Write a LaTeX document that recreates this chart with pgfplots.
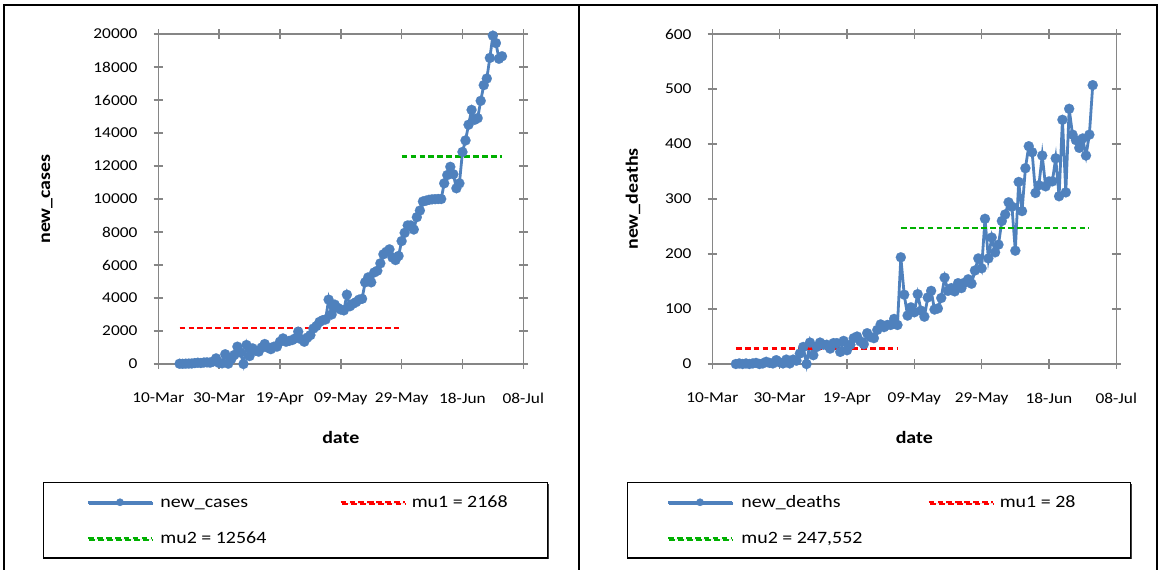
\documentclass[border=0pt]{standalone}
\usepackage{fontspec}
\setmainfont{Carlito}[FakeStretch=1.15]
\usepackage{pgfplots}
\pgfplotsset{compat=1.18}
\usetikzlibrary{shadows}
\definecolor{cblue}{HTML}{4F81BD}
\definecolor{cgray}{HTML}{868686}
\definecolor{cgreen}{RGB}{0,176,0}

\pgfplotstableread{
d v
7 15
8 10
9 20
10 25
11 30
12 55
13 75
14 60
15 90
16 100
17 80
18 150
19 340
20 60
21 40
22 590
23 20
24 300
25 550
26 1050
27 700
28 0
29 1150
30 480
31 950
32 800
33 750
34 1000
35 1210
36 990
37 900
38 1050
39 1050
40 1350
41 1550
42 1350
43 1400
44 1450
45 1550
46 1960
47 1500
48 1350
49 1600
50 1750
51 2150
52 2300
53 2550
54 2650
55 2700
56 3900
57 3000
58 3600
59 3400
60 3300
61 3250
62 4200
63 3500
64 3650
65 3750
66 3900
67 3950
68 4950
69 5250
70 4950
71 5550
72 5650
73 6100
74 6650
75 6800
76 6950
77 6450
78 6300
79 6550
80 7450
81 7950
82 8400
83 8400
84 8150
85 8900
86 9300
87 9850
88 9900
89 9950
90 9980
91 9990
92 10000
93 10000
94 10950
95 11450
96 11950
97 11500
98 10650
99 10950
100 12850
101 13550
102 14500
103 15400
104 14800
105 14900
106 15950
107 16900
108 17300
109 18550
110 19900
111 19450
112 18500
113 18650
}\cases

\pgfplotstableread{
d v
7 0
8 1
9 0
10 1
11 0
12 1
13 2
14 0
15 1
16 4
17 2
18 1
19 7
20 3
21 1
22 8
23 1
24 8
25 6
26 19
27 31
28 0
29 39
30 16
31 31
32 39
33 35
34 35
35 28
36 38
37 38
38 22
39 42
40 25
41 35
42 47
43 50
44 41
45 36
46 56
47 49
48 47
49 62
50 72
51 67
52 71
53 71
54 82
55 71
56 194
57 126
58 88
59 103
60 94
61 127
62 97
63 86
64 121
65 133
66 99
67 101
68 120
69 157
70 133
71 138
72 132
73 147
74 138
75 148
76 154
77 146
78 170
79 192
80 174
81 264
82 192
83 230
84 203
85 217
86 260
87 272
88 294
89 286
90 206
91 331
92 278
93 356
94 396
95 385
96 311
97 325
98 379
99 323
100 332
101 332
102 374
103 305
104 444
105 312
106 464
107 417
108 407
109 393
110 410
111 379
112 417
113 507
}\deaths

\pgfplotsset{
  mystyle/.style={
    scale only axis, height=247.5pt,
    xmin=0, xmax=120, xtick={0,20,...,120},
    xticklabels={10-Mar,30-Mar,19-Apr,09-May,29-May,18-Jun,08-Jul},
    scaled y ticks=false,
    axis line style={cgray, line width=1.1pt},
    tick style={cgray, line width=1.1pt},
    major tick length=7pt, tick align=center,
    ticklabel style={font=\fontsize{11.3}{13}\selectfont, black},
    /pgf/number format/assume math mode=true,
    /pgf/number format/1000 sep={},
    yticklabel style={anchor=east, inner sep=0pt, xshift=-12pt},
    xticklabel style={anchor=north, inner sep=0pt, yshift=-18pt},
    label style={font=\fontsize{13}{15}\selectfont\bfseries},
    xlabel style={at={(axis description cs:0.5,-0.2242)}, anchor=center},
    clip=false,
    legend columns=2,
    legend image code/.code={\draw[mark repeat=2, mark phase=2, ##1, mark size=2.8pt] plot coordinates {(0pt,0pt) (24pt,0pt) (48pt,0pt)};},
    legend style={anchor=north west, draw=black, line width=0.9pt, fill=white,
      drop shadow={shadow xshift=1.1pt, shadow yshift=-1.1pt, fill=black!75, opacity=1},
      inner ysep=9.5pt, row sep=16.5pt, column sep=0pt,
      font=\fontsize{13}{15}\selectfont,
      nodes={inner sep=0pt, text height=9.25pt, text depth=1.25pt},
      cells={anchor=west}},
  },
  series/.style={cblue, line width=2.1pt, mark=*, mark size=3.8pt,
    mark options={fill=cblue, draw=cblue, line width=0.1pt, solid}},
  mured/.style={red, line width=1.8pt, dash pattern=on 4.3pt off 2.4pt},
  mugreen/.style={cgreen, line width=1.8pt, dash pattern=on 4.3pt off 2.4pt},
}

\begin{document}
\begin{tikzpicture}
\begin{axis}[mystyle,
  at={(118.725pt,154.5pt)}, anchor=south west,
  width=273.75pt,
  ymin=0, ymax=20000, ytick={0,2000,...,20000},
  xlabel={date}, ylabel={new\_cases},
  ylabel style={at={(axis description cs:-0.3049,0.5)}, anchor=center},
  legend style={at={(axis description cs:-0.3159,-0.3576)}, inner xsep=32.25pt},
]
\addplot[series] table[x=d,y=v] {\cases};
\addlegendentry{\makebox[139.5pt][l]{\hspace{5.25pt}new\_cases}}
\addplot[mured] coordinates {(7,2168) (79,2168)};
\addlegendentry{\makebox[74pt][l]{\hspace{4.5pt}mu1 = 2168}}
\addplot[mugreen] coordinates {(80,12564) (113,12564)};
\addlegendentry{\makebox[139.5pt][l]{\hspace{5.25pt}mu2 = 12564}}
\end{axis}

\begin{axis}[mystyle,
  at={(534.225pt,154.5pt)}, anchor=south west,
  width=303pt,
  ymin=0, ymax=600, ytick={0,100,...,600},
  xlabel={date}, ylabel={new\_deaths},
  ylabel style={at={(axis description cs:-0.1963,0.5)}, anchor=center},
  legend style={at={(axis description cs:-0.2111,-0.3576)}, inner xsep=29.25pt},
]
\addplot[series] table[x=d,y=v] {\deaths};
\addlegendentry{\makebox[145.5pt][l]{\hspace{6pt}new\_deaths}}
\addplot[mured] coordinates {(7,28) (55,28)};
\addlegendentry{\makebox[73.5pt][l]{\hspace{4.5pt}mu1 = 28}}
\addplot[mugreen] coordinates {(56,247.552) (112,247.552)};
\addlegendentry{\makebox[145.5pt][l]{\hspace{6pt}mu2 = 247,552}}
\end{axis}

\draw[line width=1.5pt] (3pt,0pt) -- (3pt,423.75pt) -- (867.75pt,423.75pt) -- (867.75pt,0pt);
\draw[line width=1.5pt] (434.25pt,0pt) -- (434.25pt,423.75pt);
\pgfresetboundingbox
\useasboundingbox (0pt,0pt) rectangle (870.75pt,427.5pt);
\end{tikzpicture}
\end{document}
